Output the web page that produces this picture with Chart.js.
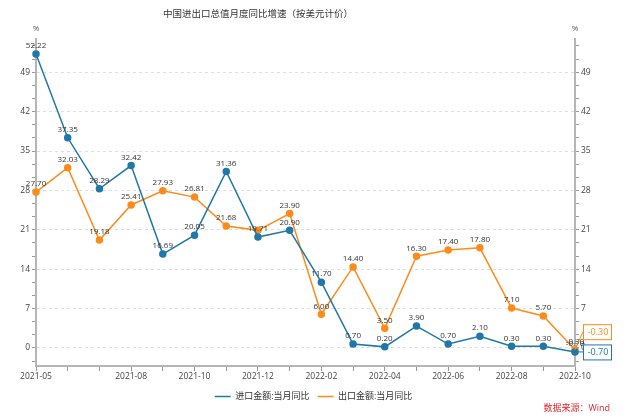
<!DOCTYPE html>
<html>
<head>
<meta charset="utf-8">
<script src="https://cdn.jsdelivr.net/npm/chart.js@4.4.0/dist/chart.umd.min.js"></script>
<style>
  html, body { margin: 0; padding: 0; background: #fff; }
  #wrap { width: 627px; height: 419px; }
</style>
</head>
<body>
<div id="wrap"><canvas id="c"></canvas></div>
<script>
// 月份
const months = ['2021-05', '2021-06', '2021-07', '2021-08', '2021-09', '2021-10', '2021-11', '2021-12',
    '2022-01', '2022-02', '2022-03', '2022-04', '2022-05', '2022-06', '2022-07', '2022-08', '2022-09', '2022-10'];
// 进口金额:当月同比
const importYoY = [52.22, 37.35, 28.29, 32.42, 16.69, 20.05, 31.36, 19.71, 20.90, 11.70, 0.70, 0.20, 3.90, 0.70, 2.10, 0.30, 0.30, -0.70];
// 出口金额:当月同比
const exportYoY = [27.70, 32.03, 19.18, 25.41, 27.93, 26.81, 21.68, 20.90, 23.90, 6.00, 14.40, 3.50, 16.30, 17.40, 17.80, 7.10, 5.70, -0.30];
// 显示的横轴标签
const shownMonths = ['2021-05', '2021-08', '2021-10', '2021-12', '2022-02', '2022-04', '2022-06', '2022-08', '2022-10'];
const yTickValues = [0, 7, 14, 21, 28, 35, 42, 49];

const BLUE = '#1f78a8';
const ORANGE = '#fb8c1c';
const FONT = "'Open Sans', 'Noto Sans CJK SC', sans-serif";

// 数据标签 + 末端数值框 + 标题
const labelsPlugin = {
    id: 'labelsPlugin',
    afterDatasetsDraw(chart) {
        const ctx = chart.ctx;
        const area = chart.chartArea;
        ctx.save();
        ctx.font = '8px ' + FONT;
        ctx.fillStyle = '#333';
        ctx.textAlign = 'center';
        ctx.textBaseline = 'middle';
        chart.data.datasets.forEach(function(ds, i) {
            const meta = chart.getDatasetMeta(i);
            meta.data.forEach(function(pt, j) {
                if (ds.hideLabels && ds.hideLabels.includes(j)) return;
                ctx.fillText(ds.data[j].toFixed(2), pt.x, pt.y - 8);
            });
        });

        // 末端数值框
        chart.data.datasets.forEach(function(ds, i) {
            const meta = chart.getDatasetMeta(i);
            const pt = meta.data[meta.data.length - 1];
            const bx = area.right + 8;
            const by = pt.y + ds.boxShift;
            const w = 28, h = 15;
            ctx.strokeStyle = ds.borderColor;
            ctx.lineWidth = 1;
            ctx.beginPath();
            ctx.moveTo(pt.x, pt.y);
            ctx.lineTo(bx, by);
            ctx.stroke();
            ctx.fillStyle = '#fff';
            ctx.fillRect(bx, by - h / 2, w, h);
            ctx.strokeRect(bx + 0.5, by - h / 2 + 0.5, w, h);
            ctx.fillStyle = ds.borderColor;
            ctx.font = '9px ' + FONT;
            ctx.textAlign = 'center';
            ctx.fillText(ds.data[ds.data.length - 1].toFixed(2), bx + w / 2 + 1, by + 0.5);
        });
        ctx.restore();
    },
    afterDraw(chart) {
        const ctx = chart.ctx;
        const area = chart.chartArea;
        ctx.save();
        ctx.textAlign = 'center';
        ctx.textBaseline = 'middle';
        ctx.fillStyle = '#333';
        ctx.font = '9.5px ' + FONT;
        ctx.fillText('中国进出口总值月度同比增速（按美元计价）', 258, 14);
        ctx.font = '8px ' + FONT;
        ctx.fillStyle = '#555';
        ctx.fillText('%', area.left, 29);
        ctx.fillText('%', area.right, 29);
        ctx.fillStyle = '#e0262b';
        ctx.font = '9px ' + FONT;
        ctx.textAlign = 'right';
        ctx.fillText('数据来源：Wind', 610, 408);
        ctx.restore();
    }
};

function minorTicks(scale) {
    const ticks = [];
    for (let k = -1; k <= 23; k++) {
        const v = Math.round(k * 7 / 3 * 1000) / 1000;
        if (v >= scale.min && v <= scale.max) ticks.push({ value: v });
    }
    scale.ticks = ticks;
}

function isMajor(v) {
    return yTickValues.some(function(t) { return Math.abs(t - v) < 0.01; });
}

new Chart(document.getElementById('c'), {
    type: 'line',
    data: {
        labels: months,
        datasets: [{
            label: '进口金额:当月同比',
            data: importYoY,
            borderColor: BLUE,
            backgroundColor: BLUE,
            borderWidth: 1.5,
            pointRadius: 3,
            pointBackgroundColor: BLUE,
            pointBorderColor: BLUE,
            pointBorderWidth: 1.5,
            tension: 0,
            boxShift: 0,
            hideLabels: []
        }, {
            label: '出口金额:当月同比',
            data: exportYoY,
            borderColor: ORANGE,
            backgroundColor: ORANGE,
            borderWidth: 1.5,
            pointRadius: 3,
            pointBackgroundColor: ORANGE,
            pointBorderColor: ORANGE,
            pointBorderWidth: 1.5,
            tension: 0,
            boxShift: -18,
            hideLabels: [7]
        }]
    },
    options: {
        responsive: true,
        maintainAspectRatio: false,
        animation: false,
        layout: { padding: { top: 39, left: 0, right: 0, bottom: 8 } },
        plugins: {
            legend: {
                position: 'bottom',
                labels: {
                    usePointStyle: true,
                    pointStyle: 'line',
                    pointStyleWidth: 16,
                    boxHeight: 8,
                    padding: 8,
                    color: '#333',
                    font: { size: 9, family: FONT }
                }
            },
            tooltip: { enabled: false }
        },
        scales: {
            x: {
                offset: false,
                grid: { drawOnChartArea: false, drawTicks: true, tickLength: 5, color: '#999' },
                border: { color: '#b5b5b5', width: 2 },
                ticks: {
                    autoSkip: false,
                    maxRotation: 0,
                    padding: 0,
                    color: '#444',
                    font: { size: 8.5, family: FONT },
                    callback: function(v, i) {
                        const m = months[i];
                        return shownMonths.includes(m) ? m : '';
                    }
                },
                afterFit: function(scale) { scale.height = 18; }
            },
            y: {
                position: 'left',
                min: -3.2,
                max: 54.9,
                afterBuildTicks: minorTicks,
                afterFit: function(scale) { scale.width = 36; },
                grid: {
                    color: function(c) { return isMajor(c.tick.value) ? '#dedede' : 'rgba(0,0,0,0)'; },
                    tickColor: '#999',
                    tickLength: 4,
                    lineWidth: 1
                },
                border: { color: '#b5b5b5', width: 2, dash: [3, 3] },
                ticks: {
                    padding: 2,
                    color: '#444',
                    font: { size: 8.5, family: FONT },
                    callback: function(v) { return isMajor(v) ? Math.round(v) : ''; }
                }
            },
            y2: {
                position: 'right',
                min: -3.2,
                max: 54.9,
                afterBuildTicks: minorTicks,
                afterFit: function(scale) { scale.width = 52; },
                grid: { drawOnChartArea: false, tickColor: '#999', tickLength: 4 },
                border: { color: '#b5b5b5', width: 2 },
                ticks: {
                    padding: 2,
                    color: '#444',
                    font: { size: 8.5, family: FONT },
                    callback: function(v) { return isMajor(v) ? Math.round(v) : ''; }
                }
            }
        }
    },
    plugins: [labelsPlugin]
});
</script>
</body>
</html>
